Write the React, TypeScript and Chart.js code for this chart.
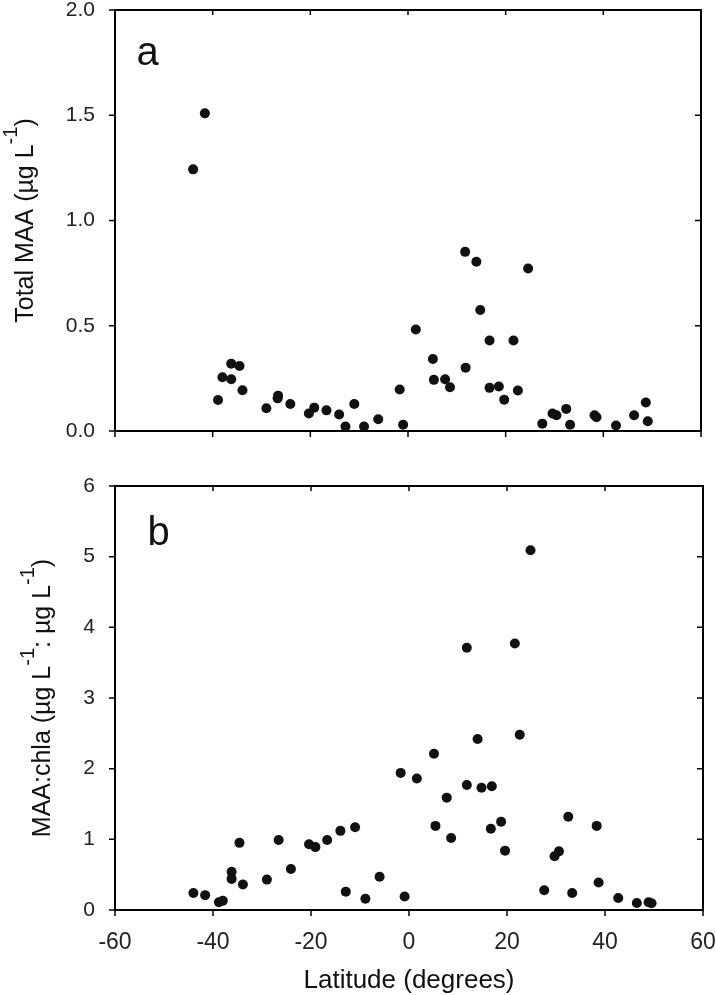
import React, { useEffect, useRef } from "react";
import { Chart, ScatterController, PointElement, LinearScale } from "chart.js";

Chart.register(ScatterController, PointElement, LinearScale);

const FONT = '"Liberation Sans", Arial, Helvetica, sans-serif';

// panel a: total MAA (ug/L) against latitude
const latA = [
  -44.0, -41.6, -38.9, -38.0, -36.2, -36.2, -34.5, -33.9, -29.0, -26.6, -26.7, -24.1,
  -20.3, -19.2, -16.7, -14.1, -12.8, -11.0, -9.0, -6.1, -1.7, -1.0, 1.6, 5.1, 5.3,
  7.6, 8.6, 11.7, 11.8, 14.0, 14.8, 16.7, 16.7, 18.6, 19.7, 21.6, 22.5, 24.6, 27.5,
  29.6, 30.4, 32.4, 33.2, 38.2, 38.6, 42.6, 46.3, 48.7, 49.1,
];
const maaA = [
  1.243, 1.509, 0.147, 0.255, 0.32, 0.246, 0.309, 0.194, 0.108, 0.168, 0.155, 0.128,
  0.083, 0.111, 0.098, 0.078, 0.021, 0.128, 0.021, 0.056, 0.197, 0.03, 0.482, 0.342, 0.243,
  0.246, 0.208, 0.851, 0.301, 0.804, 0.575, 0.43, 0.205, 0.211, 0.149, 0.43, 0.192, 0.772, 0.035,
  0.083, 0.075, 0.105, 0.03, 0.075, 0.065, 0.026, 0.075, 0.135, 0.046,
];

// panel b: MAA to chla ratio against latitude
const latB = [
  -44.0, -41.6, -38.8, -38.0, -36.2, -36.2, -34.6, -33.9, -29.0, -26.6, -24.1, -20.4,
  -19.1, -16.7, -14.0, -12.9, -11.0, -8.9, -6.0, -1.7, -0.9, 1.6, 5.1, 5.4, 7.7, 8.6,
  11.8, 11.8, 14.0, 14.8, 16.7, 16.9, 18.8, 19.6, 21.6, 22.6, 24.8, 27.6, 29.7, 30.6,
  32.5, 33.3, 38.3, 38.7, 42.7, 46.5, 48.9, 49.5,
];
const ratioB = [
  0.24, 0.21, 0.11, 0.13, 0.54, 0.44, 0.95, 0.36, 0.43, 0.99, 0.58, 0.93,
  0.89, 0.99, 1.12, 0.26, 1.17, 0.16, 0.47, 1.94, 0.19, 1.86, 2.21, 1.19, 1.59, 1.02,
  3.71, 1.77, 2.42, 1.73, 1.15, 1.75, 1.25, 0.84, 3.77, 2.48, 5.09, 0.28, 0.76, 0.83,
  1.32, 0.24, 1.19, 0.39, 0.17, 0.1, 0.11, 0.095,
];

const titleA = [{ text: "Total MAA (\u00b5g L" }, { text: "-1", sup: true }, { text: ")" }];
const titleB = [
  { text: "MAA:chla (\u00b5g L" },
  { text: "-1", sup: true },
  { text: ": \u00b5g L" },
  { text: "-1", sup: true },
  { text: ")" },
];

type Part = { text: string; sup?: boolean };

function drawRotatedTitle(ctx: CanvasRenderingContext2D, parts: Part[], baseX: number, cy: number, size: number) {
  const supSize = Math.round(size * 0.78);
  ctx.save();
  ctx.translate(baseX, cy);
  ctx.rotate(-Math.PI / 2);
  ctx.textAlign = "left";
  ctx.textBaseline = "alphabetic";
  ctx.fillStyle = "#111";
  const widths = parts.map((p) => {
    ctx.font = `${p.sup ? supSize : size}px ${FONT}`;
    return ctx.measureText(p.text).width;
  });
  let x = -widths.reduce((s, w) => s + w, 0) / 2;
  parts.forEach((p, i) => {
    ctx.font = `${p.sup ? supSize : size}px ${FONT}`;
    ctx.fillText(p.text, x, p.sup ? -size * 0.64 : 0);
    x += widths[i];
  });
  ctx.restore();
}

interface PanelProps {
  lat: number[];
  values: number[];
  height: number;
  yMax: number;
  yStep: number;
  yFormat: (v: number) => string;
  padding: { top: number; right: number; bottom: number; left: number };
  xHeight: number;
  showXLabels: boolean;
  letter: string;
  letterPos: [number, number];
  title: Part[];
  titleX: number;
  xTitleY?: number;
}

function Panel(props: PanelProps): React.ReactElement {
  const canvasRef = useRef<HTMLCanvasElement | null>(null);

  useEffect(() => {
    const ctx = canvasRef.current?.getContext("2d");
    if (!ctx) return;

    const framePlugin = {
      id: "frame",
      beforeDatasetsDraw(chart: Chart) {
        const c = chart.ctx;
        const a = chart.chartArea;
        const xs = chart.scales.x;
        const ys = chart.scales.y;
        c.save();
        c.strokeStyle = "#000";
        c.lineWidth = 1.5;
        c.beginPath();
        xs.ticks.forEach((t) => {
          const px = xs.getPixelForValue(t.value);
          c.moveTo(px, a.bottom);
          c.lineTo(px, a.bottom + 6);
          c.moveTo(px, a.top);
          c.lineTo(px, a.top + 5);
        });
        ys.ticks.forEach((t) => {
          const py = ys.getPixelForValue(t.value);
          c.moveTo(a.left - 6, py);
          c.lineTo(a.left, py);
          c.moveTo(a.right - 6, py);
          c.lineTo(a.right, py);
        });
        c.stroke();
        c.lineWidth = 2;
        c.strokeRect(a.left, a.top, a.right - a.left, a.bottom - a.top);

        c.fillStyle = "#111";
        c.font = `40px ${FONT}`;
        c.textAlign = "left";
        c.textBaseline = "alphabetic";
        c.fillText(props.letter, props.letterPos[0], props.letterPos[1]);

        drawRotatedTitle(c, props.title, props.titleX, (a.top + a.bottom) / 2, 25);

        if (props.xTitleY !== undefined) {
          c.font = `26px ${FONT}`;
          c.textAlign = "center";
          c.fillText("Latitude (degrees)", (a.left + a.right) / 2, props.xTitleY);
        }
        c.restore();
      },
    };

    const chart = new Chart(ctx, {
      type: "scatter",
      data: {
        datasets: [
          {
            data: props.lat.map((v, i) => ({ x: v, y: props.values[i] })),
            pointRadius: 5,
            pointHoverRadius: 5,
            pointBackgroundColor: "#111",
            pointBorderWidth: 0,
            clip: false,
          },
        ],
      },
      options: {
        responsive: false,
        animation: false,
        events: [],
        layout: { padding: props.padding },
        scales: {
          x: {
            type: "linear",
            min: -60,
            max: 60,
            grid: { display: false, drawTicks: false },
            border: { display: false },
            ticks: {
              stepSize: 20,
              display: props.showXLabels,
              padding: 19,
              color: "#222",
              font: { family: FONT, size: 23 },
              maxRotation: 0,
            },
            afterFit: (s) => {
              s.height = props.xHeight;
              // keep the end labels from shrinking the plot area
              s.paddingLeft = 0;
              s.paddingRight = 0;
            },
          },
          y: {
            type: "linear",
            min: 0,
            max: props.yMax,
            grid: { display: false, drawTicks: false },
            border: { display: false },
            ticks: {
              stepSize: props.yStep,
              padding: 20,
              color: "#222",
              font: { family: FONT, size: 21 },
              callback: (v) => props.yFormat(Number(v)),
            },
            afterFit: (s) => {
              s.width = 115;
              s.paddingTop = 0;
              s.paddingBottom = 0;
            },
          },
        },
      },
      plugins: [framePlugin],
    });

    return () => {
      chart.destroy();
    };
  }, []);

  return (
    <canvas
      ref={canvasRef}
      width={716}
      height={props.height}
      style={{ display: "block", width: 716, height: props.height }}
    />
  );
}

export default function App(): React.ReactElement {
  return (
    <div style={{ position: "absolute", left: 0, top: 0, width: 716, height: 995, background: "#fff" }}>
      <Panel
        lat={latA}
        values={maaA}
        height={450}
        yMax={2}
        yStep={0.5}
        yFormat={(v) => v.toFixed(1)}
        padding={{ top: 10, right: 15, bottom: 19, left: 0 }}
        xHeight={0}
        showXLabels={false}
        letter="a"
        letterPos={[136.5, 65]}
        title={titleA}
        titleX={33}
      />
      <Panel
        lat={latB}
        values={ratioB}
        height={545}
        yMax={6}
        yStep={1}
        yFormat={(v) => String(v)}
        padding={{ top: 36, right: 13, bottom: 0, left: 0 }}
        xHeight={85}
        showXLabels={true}
        letter="b"
        letterPos={[147.5, 95]}
        title={titleB}
        titleX={50}
        xTitleY={538}
      />
    </div>
  );
}
